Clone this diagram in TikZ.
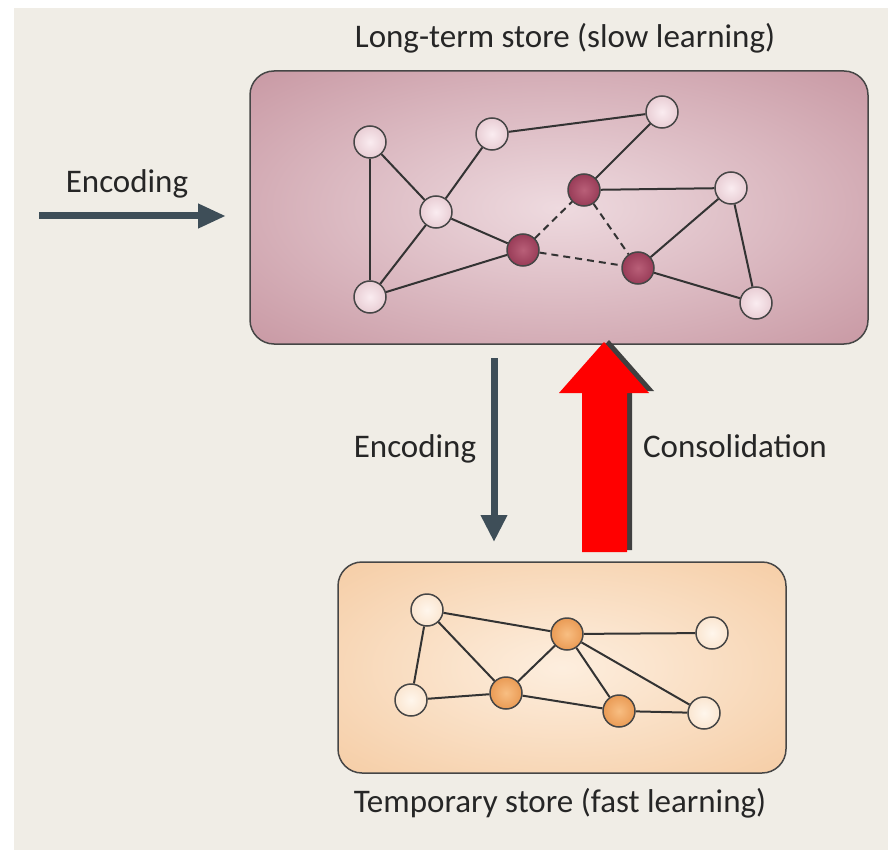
\documentclass[tikz,border=0pt]{standalone}
\usepackage{fontspec}
\setmainfont{Carlito}
\usetikzlibrary{arrows.meta,positioning}

\definecolor{paper}{RGB}{240,237,230}
\definecolor{slate}{RGB}{62,78,88}
\definecolor{rim}{RGB}{70,70,70}
\definecolor{ltin}{RGB}{238,218,223}
\definecolor{ltout}{RGB}{200,152,163}
\definecolor{tpin}{RGB}{253,238,222}
\definecolor{tpout}{RGB}{245,203,162}
\definecolor{pkin}{RGB}{250,236,240}
\definecolor{pkout}{RGB}{215,175,185}
\definecolor{mrin}{RGB}{185,95,120}
\definecolor{mrout}{RGB}{120,25,55}
\definecolor{crin}{RGB}{255,246,236}
\definecolor{crout}{RGB}{246,214,182}
\definecolor{orin}{RGB}{248,190,130}
\definecolor{orout}{RGB}{220,120,40}

\pgfdeclareradialshading{ltglow}{\pgfpoint{0bp}{0bp}}{color(0bp)=(ltin); color(36bp)=(ltout); color(50bp)=(ltout)}
\pgfdeclareradialshading{tpglow}{\pgfpoint{0bp}{0bp}}{color(0bp)=(tpin); color(38bp)=(tpout); color(50bp)=(tpout)}
\pgfdeclareradialshading{pkball}{\pgfpoint{0bp}{0bp}}{color(0bp)=(pkin); color(50bp)=(pkout)}
\pgfdeclareradialshading{mrball}{\pgfpoint{0bp}{0bp}}{color(0bp)=(mrin); color(50bp)=(mrout)}
\pgfdeclareradialshading{crball}{\pgfpoint{0bp}{0bp}}{color(0bp)=(crin); color(50bp)=(crout)}
\pgfdeclareradialshading{orball}{\pgfpoint{0bp}{0bp}}{color(0bp)=(orin); color(50bp)=(orout)}

\begin{document}
\begin{tikzpicture}[x=1pt,y=-1pt,>=Stealth,
  store/.style={draw=rim,line width=1.5pt,rounded corners=24pt},
  vtx/.style={circle,draw=rim,line width=1.5pt,minimum size=32pt,inner sep=0pt},
  pk/.style={vtx,shading=pkball},
  mr/.style={vtx,shading=mrball},
  cr/.style={vtx,shading=crball},
  orn/.style={vtx,shading=orball},
  link/.style={line width=2pt,draw=black!80},
  weak/.style={link,dash pattern=on 7pt off 5pt},
  lbl/.style={font=\fontsize{33}{36}\selectfont,text=black!85,inner sep=0pt,anchor=base},
  flow/.style={draw=slate,line width=7pt,-{Triangle[length=27pt,width=25pt]}}]
\useasboundingbox (0,0) rectangle (888,850);
\fill[white] (0,0) rectangle (888,850);
\fill[paper] (14,8) rectangle (888,850);

% stores
\shade[store,shading=ltglow] (250,71) rectangle (868,344);
\shade[store,shading=tpglow] (338,562) rectangle (786,773);

% long-term network
\node[pk] (l1) at (370,142) {};
\node[pk] (l2) at (492,134) {};
\node[pk] (l3) at (662,112) {};
\node[pk] (l4) at (436,212) {};
\node[mr] (l5) at (584,190) {};
\node[pk] (l6) at (731,188) {};
\node[mr] (l7) at (523,250) {};
\node[mr] (l8) at (638,268) {};
\node[pk] (l9) at (370,297) {};
\node[pk] (l10) at (756,303) {};

% temporary network
\node[cr] (t1) at (427,610) {};
\node[orn] (t2) at (567,634) {};
\node[cr] (t3) at (712,633) {};
\node[cr] (t4) at (411,700) {};
\node[orn] (t5) at (506,693) {};
\node[orn] (t6) at (619,711) {};
\node[cr] (t7) at (704,713) {};

\foreach \a/\b in {l1/l4,l1/l9,l2/l4,l2/l3,l4/l9,l4/l7,l7/l9,l3/l5,l5/l6,l6/l8,l6/l10,l8/l10,
  t1/t2,t1/t5,t1/t4,t4/t5,t5/t2,t2/t3,t2/t6,t2/t7,t5/t6,t6/t7}
  \draw[link] (\a)--(\b);
\foreach \a/\b in {l7/l5,l5/l8,l7/l8}
  \draw[weak] (\a)--(\b);

% labels
\node[lbl] (ltname) at (565,48) {Long-term store (slow learning)};
\node[lbl] (tpname) at (560,812) {Temporary store (fast learning)};
\node[lbl] (enc1) at (127,193) {Encoding};
\node[lbl] (enc2) at (415,457) {Encoding};
\node[lbl] (cons) at (735,457) {Consolidation};

% arrows
\coordinate (inL) at (39,216);
\coordinate (inR) at (226,216);
\draw[flow,-{Triangle[length=28pt,width=23pt]}] (inL)--(inR);
\coordinate (dnT) at (494,358);
\coordinate (dnB) at (494,542);
\draw[flow] (dnT)--(dnB);
\fill[black!75] (588,550) -- (588,391) -- (564,391) -- (609,340) -- (654,391) -- (632,391) -- (632,550) -- cycle;
\fill[red] (582,552) -- (582,393) -- (559,393) -- (604,342) -- (649,393) -- (627,393) -- (627,552) -- cycle;
\end{tikzpicture}
\end{document}
